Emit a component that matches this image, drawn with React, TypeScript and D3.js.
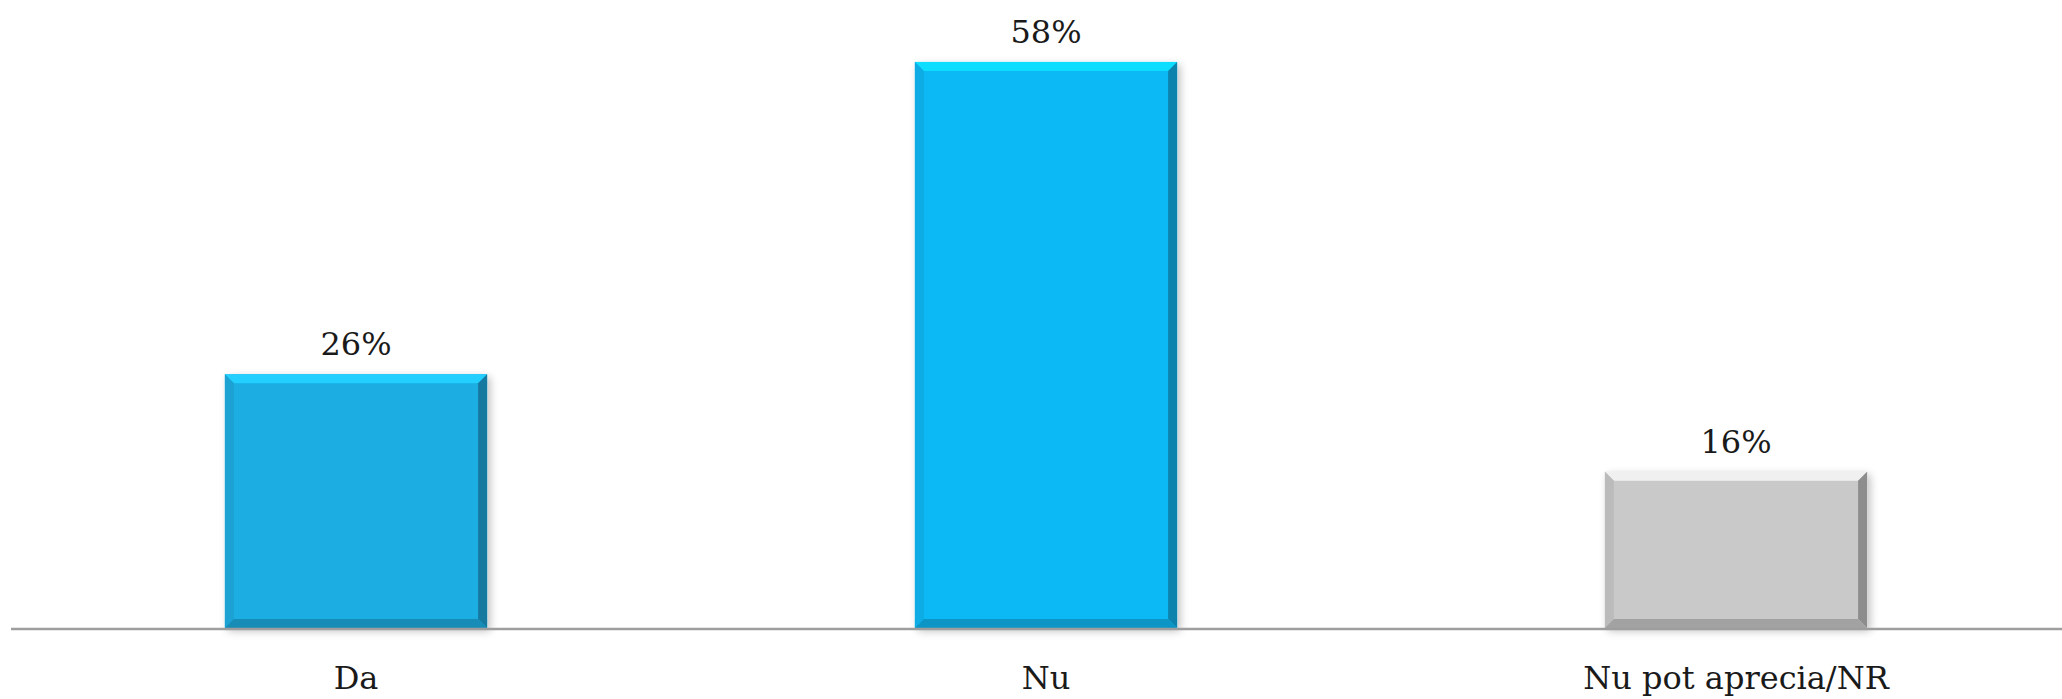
import React from "react";
import * as d3 from "d3";

const categories = ["Da", "Nu", "Nu pot aprecia/NR"];
const values = [26, 58, 16];
const labels = ["26%", "58%", "16%"];
const barColors = ["#1DADE3", "#0BB9F5", "#C9C9C9"];

const W = 2062;
const H = 699;

export default function App() {
  const x = d3
    .scaleBand<string>()
    .domain(categories)
    .range([11, 2081])
    .paddingInner(0.62)
    .paddingOuter(0.31);
  const y = d3.scaleLinear().domain([0, 100]).range([628, 628 - 976]);
  const bw = x.bandwidth();
  const b = 9;

  return (
    <svg
      width={W}
      height={H}
      style={{ position: "absolute", left: 0, top: 0, background: "#fff" }}
      fontFamily="'DejaVu Serif', serif"
    >
      <defs>
        <filter id="sh" x="-10%" y="-10%" width="130%" height="130%">
          <feGaussianBlur in="SourceAlpha" stdDeviation="4" />
          <feOffset dx="3" dy="3" />
          <feComponentTransfer>
            <feFuncA type="linear" slope="0.25" />
          </feComponentTransfer>
          <feMerge>
            <feMergeNode />
            <feMergeNode in="SourceGraphic" />
          </feMerge>
        </filter>
      </defs>
      {categories.map((c, i) => {
        const x0 = x(c)!;
        const x1 = x0 + bw;
        const y0 = y(values[i]);
        const y1 = y(0);
        const col = d3.color(barColors[i])!;
        const light = col.brighter(0.5).formatHex();
        const dark = col.darker(0.6).formatHex();
        const darker = col.darker(1.0).formatHex();
        const mid = col.darker(0.2).formatHex();
        return (
          <g key={c} filter="url(#sh)">
            <rect x={x0} y={y0} width={bw} height={y1 - y0} fill={barColors[i]} />
            <polygon
              points={`${x0},${y0} ${x1},${y0} ${x1 - b},${y0 + b} ${x0 + b},${y0 + b}`}
              fill={light}
            />
            <polygon
              points={`${x0},${y0} ${x0 + b},${y0 + b} ${x0 + b},${y1 - b} ${x0},${y1}`}
              fill={mid}
            />
            <polygon
              points={`${x1},${y0} ${x1},${y1} ${x1 - b},${y1 - b} ${x1 - b},${y0 + b}`}
              fill={darker}
            />
            <polygon
              points={`${x0},${y1} ${x1},${y1} ${x1 - b},${y1 - b} ${x0 + b},${y1 - b}`}
              fill={dark}
            />
          </g>
        );
      })}
      <line x1={11} x2={W} y1={629} y2={629} stroke="#9E9E9E" strokeWidth={2.5} />
      {categories.map((c, i) => (
        <text
          key={"v" + c}
          x={x(c)! + bw / 2}
          y={y(values[i]) - 19}
          textAnchor="middle"
          fontSize={32}
          fill="#1a1a1a"
        >
          {labels[i]}
        </text>
      ))}
      {categories.map((c) => (
        <text
          key={"c" + c}
          x={x(c)! + bw / 2}
          y={689}
          textAnchor="middle"
          fontSize={32}
          fill="#1a1a1a"
        >
          {c}
        </text>
      ))}
    </svg>
  );
}
